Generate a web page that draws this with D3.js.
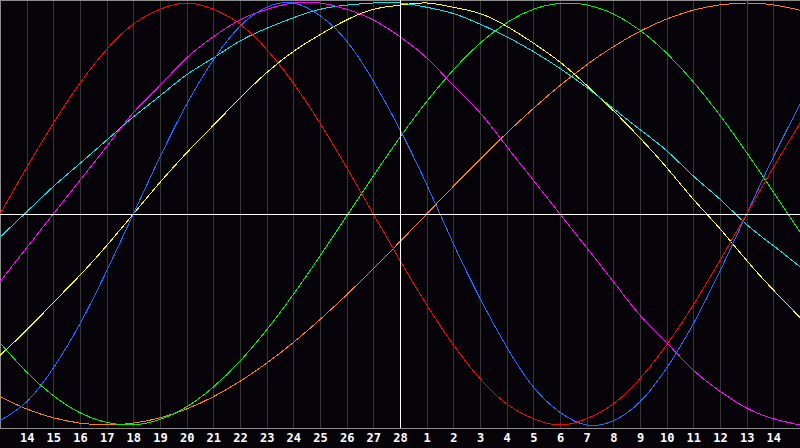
<!DOCTYPE html>
<html>
<head>
<meta charset="utf-8">
<script src="https://cdn.jsdelivr.net/npm/d3@7"></script>
<style>
  html, body { margin: 0; padding: 0; background: #050308; }
  svg { display: block; }
</style>
</head>
<body>
<script>
// Day labels for each column (index 0..30), today = 28
const days = [13, 14, 15, 16, 17, 18, 19, 20, 21, 22, 23, 24, 25, 26, 27, 28,
              1, 2, 3, 4, 5, 6, 7, 8, 9, 10, 11, 12, 13, 14, 15];
const todayIndex = 15;

// Curve values (percent, -100..100), one per day
const red = [0, 22, 43, 62, 78, 90, 97, 100, 97, 90, 78, 62, 43, 22, 0, -22,
             -43, -62, -78, -90, -97, -100, -97, -90, -78, -62, -43, -22, 0, 22, 43];
const blue = [-98, -89, -73, -52, -27, 0, 27, 52, 73, 89, 98, 100, 94, 82, 63, 40,
              14, -14, -40, -63, -82, -94, -100, -98, -89, -73, -52, -27, 0, 27, 52];
const green = [-61.1, -74.9, -86.1, -94.2, -98.8, -99.9, -97.4, -91.4, -82.0, -69.7, -54.9,
               -38.1, -19.9, -1.0, 18.0, 36.3, 53.3, 68.3, 80.9, 90.6, 97.0, 99.8, 99.1,
               94.8, 87.1, 76.2, 62.6, 46.7, 29.1, 10.5, -8.6];
const magenta = [-32, -16, 0, 16, 32, 48, 61, 74, 84, 92, 97, 100, 100, 97, 92, 84,
                 74, 61, 48, 32, 16, 0, -16, -32, -48, -61, -74, -84, -92, -97, -100];
const cyan = [-11, 1, 13, 24, 35, 46, 56, 66, 74, 82, 88, 93, 97, 99, 100, 100,
              98, 95, 90, 84, 77, 69, 60, 50, 40, 30, 18, 7, -5, -15, -25];
const yellow = [-67, -55, -42, -29, -15, 0, 15, 29, 42, 55, 67, 77, 85, 92, 97, 99,
                100, 98, 95, 89, 81, 72, 61, 49, 36, 22, 7, -7, -22, -36, -49];
const orange = [-86.6, -92.4, -96.6, -99.1, -100, -99.1, -96.6, -92.4, -86.6, -79.3, -70.7,
                -60.9, -50, -38.3, -25.9, -13.1, 0, 13.1, 25.9, 38.3, 50, 60.9, 70.7,
                79.3, 86.6, 92.4, 96.6, 99.1, 100, 99.1, 96.6];

const series = [
  {name: "orange", values: orange, color: "#ff7f00"},
  {name: "green", values: green, color: "#00ee00"},
  {name: "yellow", values: yellow, color: "#ffff00"},
  {name: "cyan", values: cyan, color: "#00e8e8"},
  {name: "magenta", values: magenta, color: "#ff00ff"},
  {name: "blue", values: blue, color: "#1a6eff"},
  {name: "red", values: red, color: "#ff0000"}
];

const width = 800;
const height = 448;
const plotBottom = 428;

const x = d3.scaleLinear([0, days.length - 1], [0, width]);
const y = d3.scaleLinear([-100, 100], [425, 3]);

const svg = d3.select("body").append("svg")
    .attr("width", width)
    .attr("height", height)
    .attr("viewBox", [0, 0, width, height]);

svg.append("rect")
    .attr("width", width)
    .attr("height", height)
    .attr("fill", "#050308");

// Vertical day grid
svg.append("g")
    .attr("stroke", "#363636")
    .attr("shape-rendering", "crispEdges")
    .selectAll("line")
    .data(d3.range(1, days.length - 1).filter(i => i !== todayIndex))
    .join("line")
    .attr("x1", i => Math.round(x(i)) + 0.5)
    .attr("x2", i => Math.round(x(i)) + 0.5)
    .attr("y1", 0)
    .attr("y2", plotBottom);

// Frame: top, left, bottom
svg.append("g")
    .attr("stroke", "#8c8c8c")
    .attr("shape-rendering", "crispEdges")
    .call(g => g.append("line").attr("x1", 0).attr("x2", width).attr("y1", 0.5).attr("y2", 0.5))
    .call(g => g.append("line").attr("x1", 0.5).attr("x2", 0.5).attr("y1", 0).attr("y2", plotBottom))
    .call(g => g.append("line").attr("x1", 0).attr("x2", width).attr("y1", plotBottom + 0.5).attr("y2", plotBottom + 0.5));

// Curves
const line = d3.line()
    .x((d, i) => x(i))
    .y(d => y(d))
    .curve(d3.curveNatural);

svg.append("g")
    .attr("fill", "none")
    .attr("stroke-width", 1)
    .attr("shape-rendering", "crispEdges")
    .selectAll("path")
    .data(series)
    .join("path")
    .attr("stroke", d => d.color)
    .attr("d", d => line(d.values));

// Zero line and today marker
svg.append("g")
    .attr("stroke", "#ffffff")
    .attr("shape-rendering", "crispEdges")
    .call(g => g.append("line")
        .attr("x1", 0).attr("x2", width)
        .attr("y1", Math.round(y(0)) + 0.5).attr("y2", Math.round(y(0)) + 0.5))
    .call(g => g.append("line")
        .attr("x1", x(todayIndex) + 0.5).attr("x2", x(todayIndex) + 0.5)
        .attr("y1", 0).attr("y2", plotBottom));

// Day labels
const axis = d3.axisBottom(x)
    .tickValues(d3.range(1, days.length - 1))
    .tickFormat(i => days[i])
    .tickSize(0)
    .tickPadding(5);

svg.append("g")
    .attr("transform", `translate(0,${plotBottom})`)
    .call(axis)
    .call(g => g.select(".domain").remove())
    .call(g => g.selectAll("text")
        .attr("fill", "#ffffff")
        .attr("font-family", "DejaVu Sans Mono")
        .attr("font-weight", "bold")
        .attr("font-size", 12));
</script>
</body>
</html>
